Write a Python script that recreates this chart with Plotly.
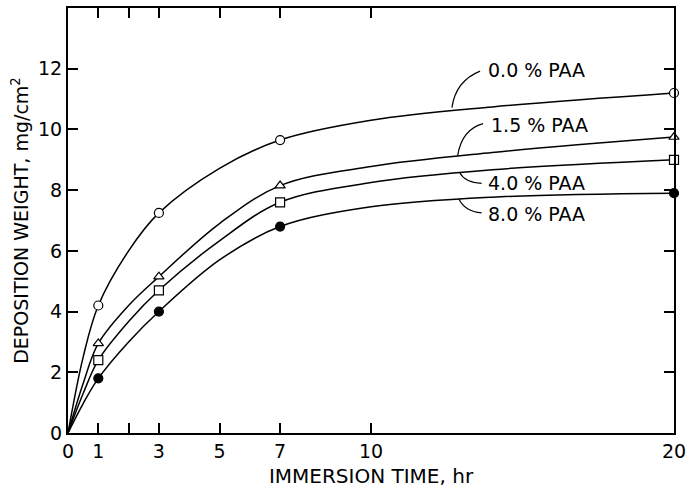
import plotly.graph_objects as go

# measured points (markers)
time_hr = [1, 3, 7, 20]
paa_00 = [4.2, 7.25, 9.65, 11.2]
paa_15 = [2.95, 5.15, 8.15, 9.75]
paa_40 = [2.4, 4.7, 7.6, 9.0]
paa_80 = [1.8, 4.0, 6.8, 7.9]

# drawn smooth curves
curve_t = [0, 0.5, 1, 2, 3, 5, 7, 10, 14, 20]
curve_00 = [0, 2.5, 4.2, 6.0, 7.25, 8.72, 9.65, 10.3, 10.74, 11.2]
curve_15 = [0, 1.63, 2.95, 4.2, 5.15, 6.9, 8.15, 8.78, 9.24, 9.75]
curve_40 = [0, 1.3, 2.4, 3.67, 4.7, 6.33, 7.6, 8.25, 8.67, 9.0]
curve_80 = [0, 0.97, 1.8, 3.0, 4.0, 5.7, 6.8, 7.45, 7.77, 7.9]

series = [
    ("0.0 % PAA", paa_00, curve_00, "circle", "white"),
    ("1.5 % PAA", paa_15, curve_15, "triangle-up", "white"),
    ("4.0 % PAA", paa_40, curve_40, "square", "white"),
    ("8.0 % PAA", paa_80, curve_80, "circle", "black"),
]

x_tickvals = [0, 1, 2, 3, 5, 7, 10, 20]
x_ticktext = ["0", "1", "", "3", "5", "7", "10", "20"]
y_tickvals = [0, 2, 4, 6, 8, 10, 12, 14]
y_ticktext = ["0", "2", "4", "6", "8", "10", "12", ""]

FONT = "DejaVu Sans, Liberation Sans, sans-serif"

fig = go.Figure()
for name, vals, curve, sym, fill in series:
    fig.add_trace(go.Scatter(
        x=curve_t, y=curve, mode="lines",
        line=dict(color="black", width=1.5, shape="spline", smoothing=1.0),
        showlegend=False, cliponaxis=False, hoverinfo="skip"))
    fig.add_trace(go.Scatter(
        x=time_hr, y=vals, mode="markers", name=name,
        marker=dict(symbol=sym, size=9, color=fill,
                    line=dict(color="black", width=1.2)),
        showlegend=False, cliponaxis=False))

# labels with curved leader lines
labels = [
    ("0.0 % PAA", 13.81, 11.96, "M 13.6,11.92 Q 12.8,11.6 12.67,10.72"),
    ("1.5 % PAA", 13.88, 10.15, "M 13.7,10.19 Q 13.0,10.0 12.86,9.14"),
    ("4.0 % PAA", 13.81, 8.22, "M 12.93,8.57 Q 13.1,8.25 13.65,8.22"),
    ("8.0 % PAA", 13.81, 7.2, "M 12.9,7.71 Q 13.1,7.3 13.65,7.25"),
]
for text, lx, ly, path in labels:
    fig.add_annotation(x=lx, y=ly, text=text, showarrow=False, xanchor="left",
                       yanchor="middle", font=dict(size=19, color="black", family=FONT))
    fig.add_shape(type="path", path=path, line=dict(color="black", width=1.2),
                  xref="x", yref="y")

fig.update_xaxes(range=[0, 20], tickvals=x_tickvals, ticktext=x_ticktext,
                 ticks="inside", ticklen=10, tickwidth=1.5, tickcolor="black",
                 showline=True, linecolor="black", linewidth=2, mirror="ticks",
                 showgrid=False, zeroline=False,
                 tickfont=dict(size=19, color="black", family=FONT),
                 title=dict(text="IMMERSION TIME, hr", font=dict(size=20, color="black", family=FONT), standoff=8))
fig.update_yaxes(range=[0, 14], tickvals=y_tickvals, ticktext=y_ticktext,
                 ticks="inside", ticklen=10, tickwidth=1.5, tickcolor="black",
                 showline=True, linecolor="black", linewidth=2, mirror="ticks",
                 showgrid=False, zeroline=False,
                 tickfont=dict(size=19, color="black", family=FONT),
                 title=dict(text="DEPOSITION WEIGHT, mg/cm<sup>2</sup>", font=dict(size=19, color="black", family=FONT), standoff=4))

fig.update_layout(width=692, height=496, margin=dict(l=68, r=13, t=6, b=63),
                  plot_bgcolor="white", paper_bgcolor="white",
                  font=dict(family=FONT, color="black"))

fig.write_html("out.html")
